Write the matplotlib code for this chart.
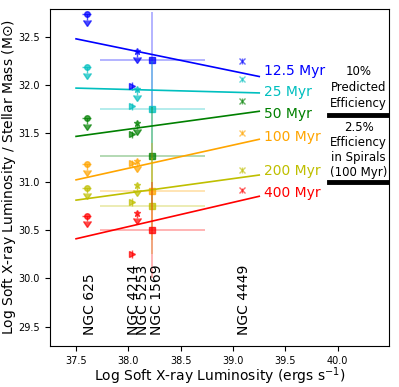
import matplotlib.pyplot as plt
import numpy as np

ages = ['12.5 Myr', '25 Myr', '50 Myr', '100 Myr', '200 Myr', '400 Myr']
colors = ['b', 'c', 'g', 'orange', 'y', 'r']

# galaxy x positions (log soft X-ray luminosity)
gal_names = ['NGC 625', 'NGC 4214', 'NGC 5253', 'NGC 1569', 'NGC 4449']
gal_x = [37.6, 38.03, 38.08, 38.23, 39.09]

# y values per age (rows) for each galaxy
ngc625 = [32.74, 32.19, 31.66, 31.18, 30.94, 30.65]
ngc4214 = [31.99, 31.78, 31.49, 31.19, 30.79, 30.25]
ngc5253 = [32.35, 31.96, 31.61, 31.22, 30.97, 30.68]
ngc1569 = [32.26, 31.75, 31.27, 30.90, 30.75, 30.50]
ngc4449 = [32.25, 32.06, 31.84, 31.51, 31.12, 30.91]

# predicted lines: value at x=37.5 and x=39.25
line_x = [37.5, 39.25]
line_start = [32.48, 31.97, 31.47, 31.02, 30.81, 30.41]
line_end = [32.09, 31.92, 31.73, 31.44, 31.07, 30.85]
label_y = [32.15, 31.93, 31.70, 31.46, 31.11, 30.88]

label_x = [37.63, 38.05, 38.14, 38.27, 39.10]

fig = plt.figure(figsize=(3.99, 3.87), dpi=100)
ax = fig.add_axes([0.125, 0.106, 0.85, 0.871])

for i, c in enumerate(colors):
    ax.errorbar(gal_x[0], ngc625[i], xerr=0.04, yerr=0.06, uplims=True,
                fmt='o', color=c, ms=4, alpha=0.7, capsize=0, elinewidth=1)
    ax.errorbar(gal_x[1], ngc4214[i], yerr=0.04,
                fmt='>', color=c, ms=4, alpha=0.7, capsize=0, elinewidth=1)
    ax.errorbar(gal_x[2], ngc5253[i], yerr=0.06, uplims=True,
                fmt='*', color=c, ms=5, alpha=0.7, capsize=0, elinewidth=1)
    ax.errorbar(gal_x[3], ngc1569[i], xerr=0.5, yerr=0.5, fmt='none',
                ecolor=c, alpha=0.35, elinewidth=1.2, capsize=0)
    ax.plot(gal_x[3], ngc1569[i], 's', color=c, ms=5, alpha=0.75)
    ax.errorbar(gal_x[4], ngc4449[i], yerr=0.03,
                fmt='x', color=c, ms=4, alpha=0.6, capsize=0, elinewidth=1)
    ax.plot(line_x, [line_start[i], line_end[i]], color=c, lw=1.2)
    ax.text(39.3, label_y[i], ages[i], color=c, fontsize=10, va='center')

for name, x in zip(gal_names, label_x):
    ax.text(x, 29.41, name, rotation=90, ha='center', va='bottom', fontsize=10)

ax.text(40.2, 31.98, '10%\nPredicted\nEfficiency', ha='center', va='center',
        fontsize=8.5, linespacing=1.3)
ax.plot([39.92, 40.49], [31.69, 31.69], color='k', lw=3.5)
ax.text(40.2, 31.33, '2.5%\nEfficiency\nin Spirals\n(100 Myr)', ha='center',
        va='center', fontsize=8.5, linespacing=1.22)
ax.plot([39.92, 40.49], [31.0, 31.0], color='k', lw=3.5)

ax.set_xlim(37.25, 40.49)
ax.set_ylim(29.3, 32.79)
ax.set_xticks([37.5, 38.0, 38.5, 39.0, 39.5, 40.0])
ax.set_yticks([29.5, 30.0, 30.5, 31.0, 31.5, 32.0, 32.5])
ax.tick_params(labelsize=7)
ax.set_xlabel('Log Soft X-ray Luminosity (ergs s$^{-1}$)', fontsize=10)
ax.set_ylabel('Log Soft X-ray Luminosity / Stellar Mass (M$\\odot$)', fontsize=10)
ax.xaxis.set_label_coords(0.5, -0.058)
ax.yaxis.set_label_coords(-0.094, 0.5)

plt.savefig('out.png', dpi=100)
